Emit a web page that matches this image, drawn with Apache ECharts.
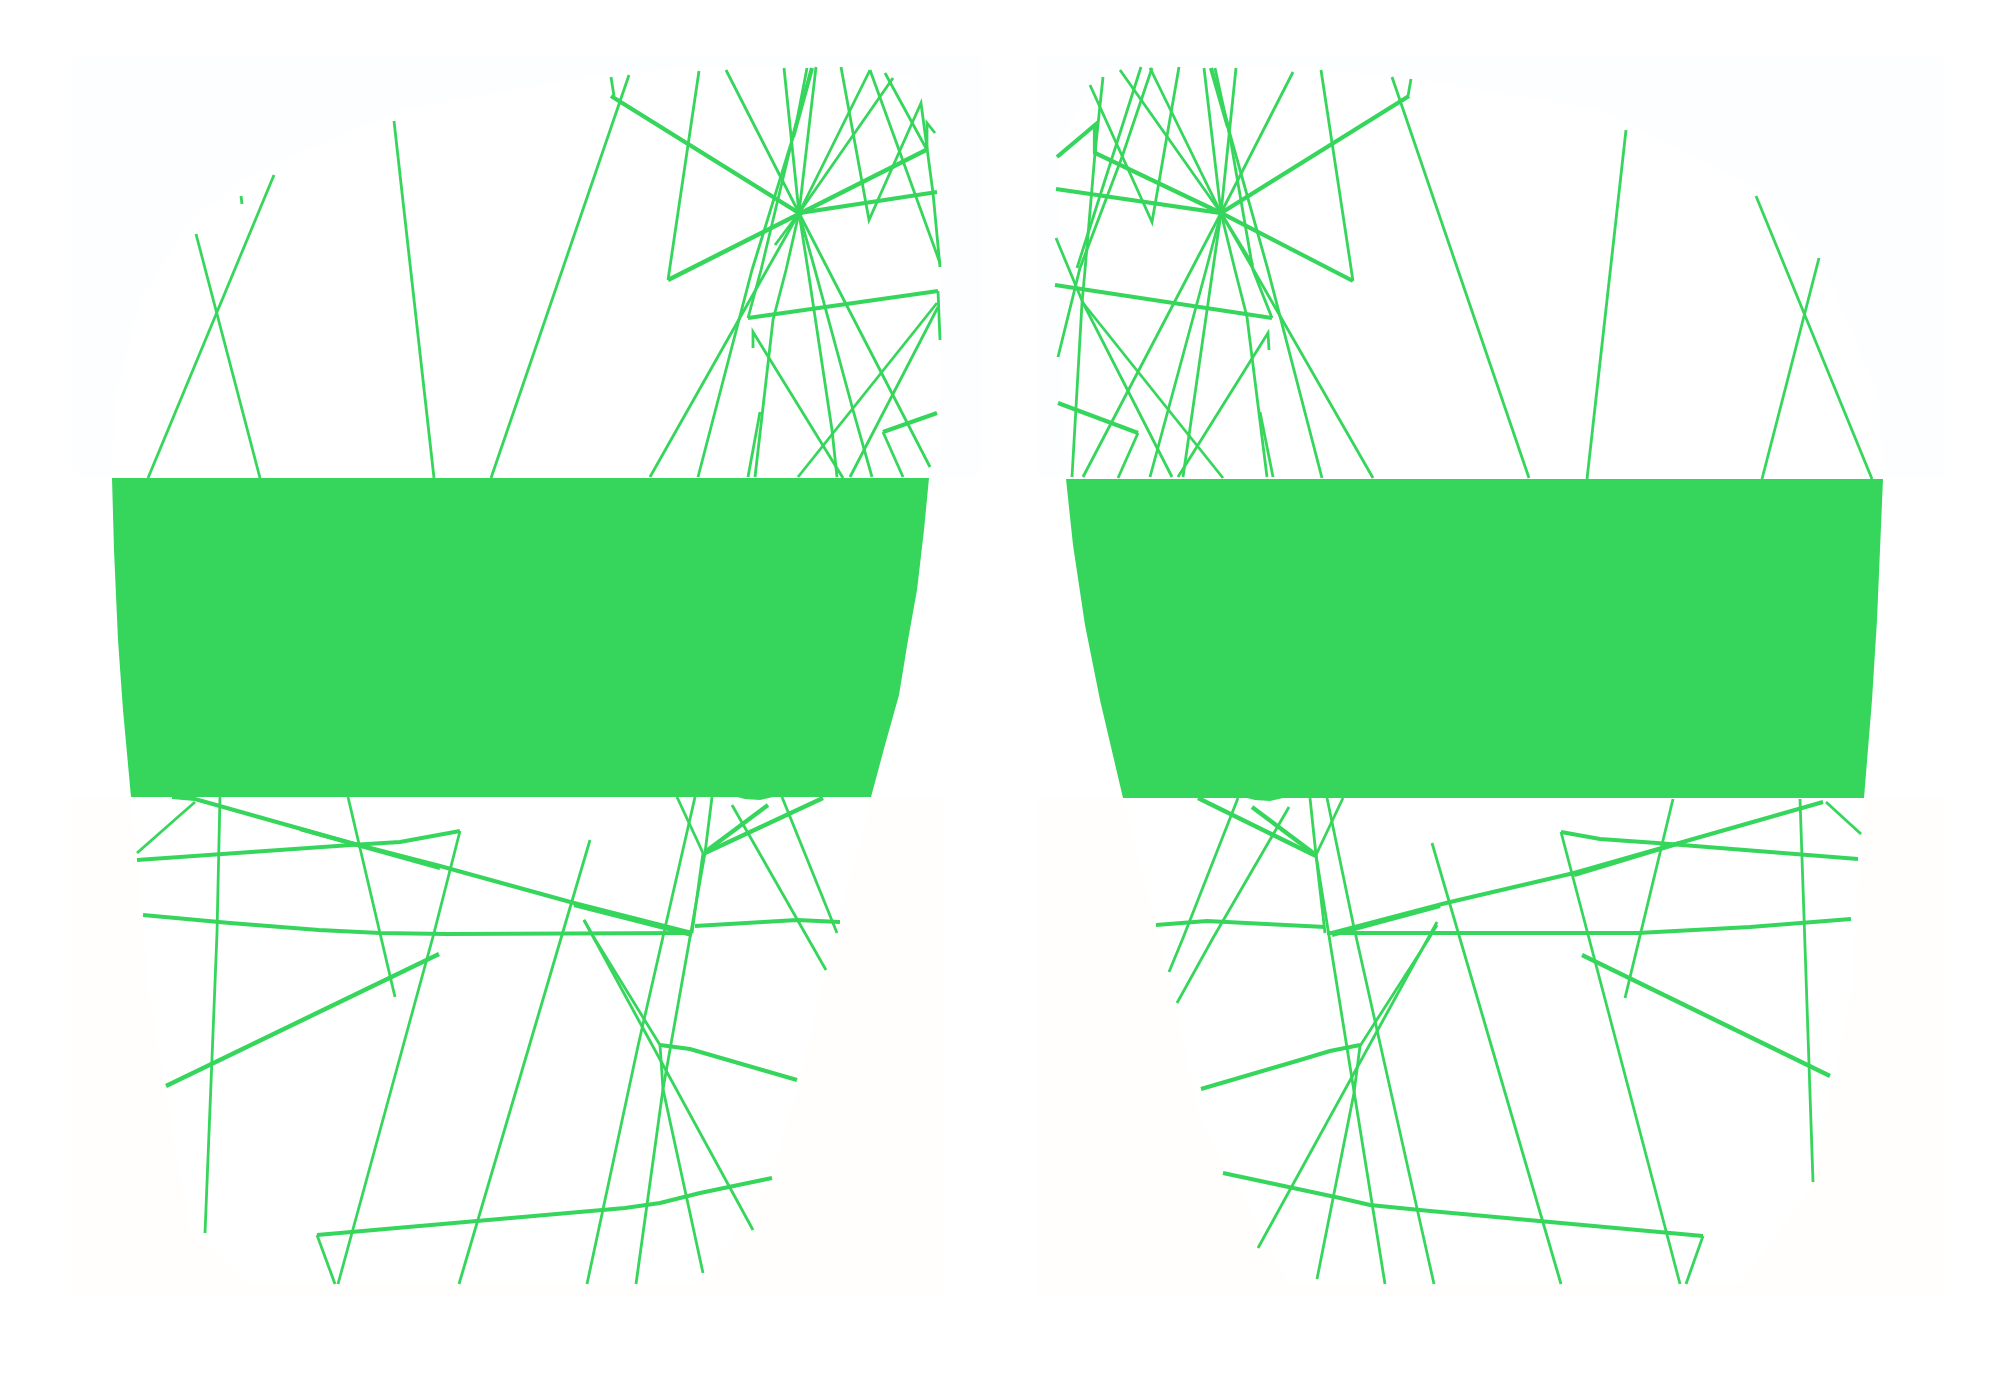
<!DOCTYPE html>
<html><head><meta charset="utf-8">
<style>html,body{margin:0;padding:0;background:#fff}#c{width:2000px;height:1378px}</style>
<script src="https://cdn.jsdelivr.net/npm/echarts@6/dist/echarts.min.js"></script>
</head><body><div id="c"></div>
<script>
const bluePanels = [
  [73,55,982,55,982,478,73,478],
  [1038,55,1945,55,1945,478,1038,478]
];
const creamPanels = [
  [73,797,945,797,945,1297,73,1297],
  [1038,797,1945,797,1945,1297,1038,1297]
];
const whiteShapes = [
  [112,478,115,400,140,300,190,220,250,175,400,110,600,75,700,67,880,67,915,80,940,130,940,478],
  [1066,478,1062,400,1060,140,1100,70,1300,67,1420,80,1600,110,1760,190,1830,280,1880,400,1883,478],
  [131,797,872,797,830,950,800,1080,770,1180,700,1284,250,1284,190,1230,150,1000],
  [1123,797,1864,797,1850,1000,1810,1190,1740,1284,1290,1284,1200,1120,1170,980]
];
const bands = [
  [112,478,929,478,924,530,917,590,908,640,899,695,885,745,871,797,773,797,760,800,745,799,737,797,131,797,123,710,118,640,114,550],
  [1066,479,1883,479,1877,620,1872,700,1864,798,1283,798,1270,801,1255,800,1247,798,1123,798,1100,700,1085,625,1073,545]
];
const thinTopLeft = [
  [148,478,274,175],[260,478,196,234],[241,196,242,204],[434,478,394,121],[491,478,629,75],
  [611,77,614,96],[699,71,668,280],[726,70,799,213,930,467],
  [784,68,799,213,808,270,832,430,837,477],[816,67,799,213,786,270,773,320,755,477],
  [793,137,752,270,698,477],[807,68,797,120,761,270,748,318],[748,477,760,412],
  [870,70,799,213,650,477],[893,78,799,213,775,245],[799,213,815,270,853,410,872,477],
  [841,67,869,220,921,103,933,193,940,267],[870,70,940,263],[885,73,927,150],
  [927,150,927,123,935,133],[753,348,753,332,843,478],[937,303,798,477],[938,307,850,477],
  [938,291,940,340],[883,432,903,477]
];
const thickTopLeft = [
  [611,96,799,213,937,192],[668,280,926,150],[748,318,938,291],[937,413,883,432],[812,68,793,137]
];
const thinTopRight = [
  [1392,77,1529,478],[1411,79,1408,96],[1626,130,1587,479],[1756,196,1872,479],[1819,258,1762,479],
  [1321,70,1353,281],[1150,68,1221,213,1373,478],[1120,70,1221,213,1253,265],
  [1293,72,1221,213,1083,477],[1236,68,1221,213,1183,477],
  [1204,68,1221,213,1235,270,1247,317,1267,477],[1228,127,1268,270,1322,478],
  [1215,68,1230,137,1253,270,1272,318],[1273,477,1260,412],[1179,67,1152,222,1090,85],
  [1221,213,1206,270,1150,477],[1103,77,1095,153,1085,270,1082,303,1072,477],[1141,67,1077,268],
  [1152,68,1122,157,1080,268,1058,357],[1056,238,1083,303,1172,477],[1083,303,1223,478],
  [1138,433,1118,478],[1269,350,1268,333,1178,477]
];
const thickTopRight = [
  [1409,96,1221,213,1056,189],[1353,281,1221,213,1095,153,1095,125,1057,157],
  [1272,318,1055,285],[1058,403,1138,433],[1211,68,1228,127]
];
const thinBottomLeft = [
  [195,802,137,853],[460,831,434,933,338,1284],[220,796,217,933,205,1233],[348,797,395,997],
  [703,853,677,797],[695,797,638,1046,587,1284],[712,797,705,853,663,1089,636,1284],
  [703,853,692,933],[590,840,459,1284],[584,920,753,1230],[584,920,593,936,660,1045],
  [660,1045,663,1089,703,1273],[317,1235,335,1284],[732,805,826,970],[782,797,837,933]
];
const thickBottomLeft = [
  [172,797,195,799,351,843,440,866,574,903,692,933],[300,829,440,868],[574,905,692,935],
  [137,860,351,845,400,842,460,831],
  [143,915,230,923,319,930,380,933,446,934,692,933],[695,926,797,920,840,922],[705,853,823,798],[705,852,768,805],
  [660,1045,690,1049,797,1080],[317,1235,625,1208,660,1203,700,1193,772,1178],[166,1086,439,954]
];
const thinBottomRight = [
  [1561,832,1680,1284],[1673,799,1625,998],[1432,843,1561,1284],[1437,922,1258,1248],
  [1437,925,1428,940,1360,1046],[1360,1046,1354,1093,1317,1279],[1327,798,1353,923,1434,1284],
  [1310,798,1316,855,1385,1284],[1343,798,1316,855],[1316,855,1325,933],
  [1238,798,1183,938,1169,972],[1289,807,1213,938,1177,1003],[1703,1236,1686,1284],
  [1800,799,1813,1182],[1826,802,1861,834]
];
const thickBottomRight = [
  [1332,933,1446,903,1574,873,1823,802],[1332,935,1440,906],[1574,875,1680,843],
  [1327,933,1638,933,1750,927,1851,919],[1561,832,1600,839,1657,843,1858,859],
  [1156,925,1207,921,1325,927],[1223,1173,1340,1198,1370,1205,1430,1211,1703,1236],[1582,955,1830,1076],
  [1316,856,1198,798],[1316,855,1252,807],[1360,1045,1330,1051,1300,1060,1201,1089]
];

const green = '#36d65c';
const pairs = f => { const o = []; for (let i = 0; i < f.length; i += 2) o.push([f[i], f[i + 1]]); return o; };
const polygons = (list, color) => ({
  type: 'custom', coordinateSystem: 'cartesian2d', silent: true, animation: false,
  data: list.map((_, i) => [i]),
  encode: { x: 0 },
  renderItem: (p, api) => ({
    type: 'polygon',
    shape: { points: pairs(list[api.value(0)]).map(q => api.coord(q)) },
    style: { fill: color }
  })
});
const lines = (list, width) => list.map(f => ({
  type: 'line', data: pairs(f), showSymbol: false, silent: true, animation: false,
  lineStyle: { color: green, width: width, cap: 'butt', join: 'miter' }
}));

const chart = echarts.init(document.getElementById('c'), null, { renderer: 'canvas' });
chart.setOption({
  backgroundColor: '#ffffff',
  grid: { left: 0, right: 0, top: 0, bottom: 0 },
  xAxis: { type: 'value', min: 0, max: 2000, show: false },
  yAxis: { type: 'value', min: 0, max: 1378, inverse: true, show: false },
  series: [
    polygons(bluePanels, '#fdfeff'),
    polygons(creamPanels, '#fffefd'),
    polygons(whiteShapes, '#ffffff'),
    ...lines(thinTopLeft, 2.8), ...lines(thinTopRight, 2.8),
    ...lines(thinBottomLeft, 2.8), ...lines(thinBottomRight, 2.8),
    ...lines(thickTopLeft, 4.2), ...lines(thickTopRight, 4.2),
    ...lines(thickBottomLeft, 4.2), ...lines(thickBottomRight, 4.2),
    polygons(bands, green)
  ]
});
</script></body></html>
